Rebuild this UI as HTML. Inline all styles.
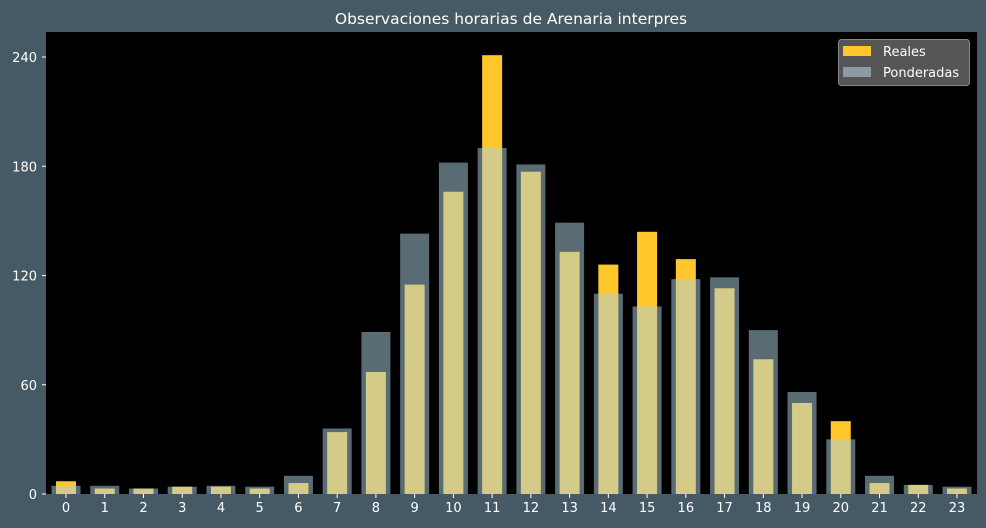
<!DOCTYPE html>
<html><head><meta charset="utf-8"><style>
html,body{margin:0;background:#455a64;overflow:hidden;width:986px;height:528px;}
svg{display:block;}
svg text{font-family:"DejaVu Sans","Liberation Sans",sans-serif;fill:#fff;}
</style></head><body>
<svg id="chart" width="986" height="528" xmlns="http://www.w3.org/2000/svg">
<rect x="0" y="0" width="986" height="528" fill="#455a64"/>
<text x="511" y="24" font-size="15.5" text-anchor="middle">Observaciones horarias de Arenaria interpres</text>
<rect x="46" y="32" width="931" height="462" fill="#000"/>
<g id="bars"></g><g id="axes"></g>
<g>
<rect x="838.5" y="39.5" width="131" height="46" rx="3" fill="#555" stroke="#888"/>
<rect x="843" y="46" width="28" height="10" fill="#ffc72c"/>
<text x="883" y="56" font-size="13">Reales</text>
<rect x="843" y="67" width="28" height="10" fill="#8a9ba1"/>
<text x="883" y="77" font-size="13">Ponderadas</text>
</g>
</svg>
<script>
const hours=[0,1,2,3,4,5,6,7,8,9,10,11,12,13,14,15,16,17,18,19,20,21,22,23];
const reales=[7,3,3,4,4,3,6,34,67,115,166,241,177,133,126,144,129,113,74,50,40,6,5,3];
const ponderadas=[4.5,4.5,3,4,4.5,4,10,36,89,143,182,190,181,149,110,103,118,119,90,56,30,10,5,4];
const yTicks=[0,60,120,180,240];
const NS="http://www.w3.org/2000/svg";
const x=i=>66+i*(957-66)/23;
const y=v=>494-v*(494-57)/240;
function mk(t,a,p){const e=document.createElementNS(NS,t);for(const k in a)e.setAttribute(k,a[k]);p.appendChild(e);return e;}
const bars=document.getElementById('bars'),axes=document.getElementById('axes');
hours.forEach((h,i)=>{
 const r=mk('rect',{x:x(i)-10,y:y(reales[i]),width:20,height:494-y(reales[i]),fill:'#ffc72c'},bars);
 
 
});
hours.forEach((h,i)=>{
 const r=mk('rect',{x:x(i)-14.5,y:y(ponderadas[i]),width:29,height:494-y(ponderadas[i]),fill:'rgb(173,208,220)','fill-opacity':0.52},bars);
 
 
 const t=mk('text',{x:x(i),y:512,'font-size':13,'text-anchor':'middle'},axes);t.textContent=h;
 
 
 const tk=mk('line',{x1:x(i),x2:x(i),y1:494,y2:498,stroke:'#fff'},axes);
 
 
});
yTicks.forEach(v=>{
 const t=mk('text',{x:37,y:y(v)+5,'font-size':13,'text-anchor':'end'},axes);t.textContent=v;
 
 
 const tk=mk('line',{x1:42,x2:46,y1:y(v),y2:y(v),stroke:'#fff'},axes);
 
 
});
</script>
</body></html>
